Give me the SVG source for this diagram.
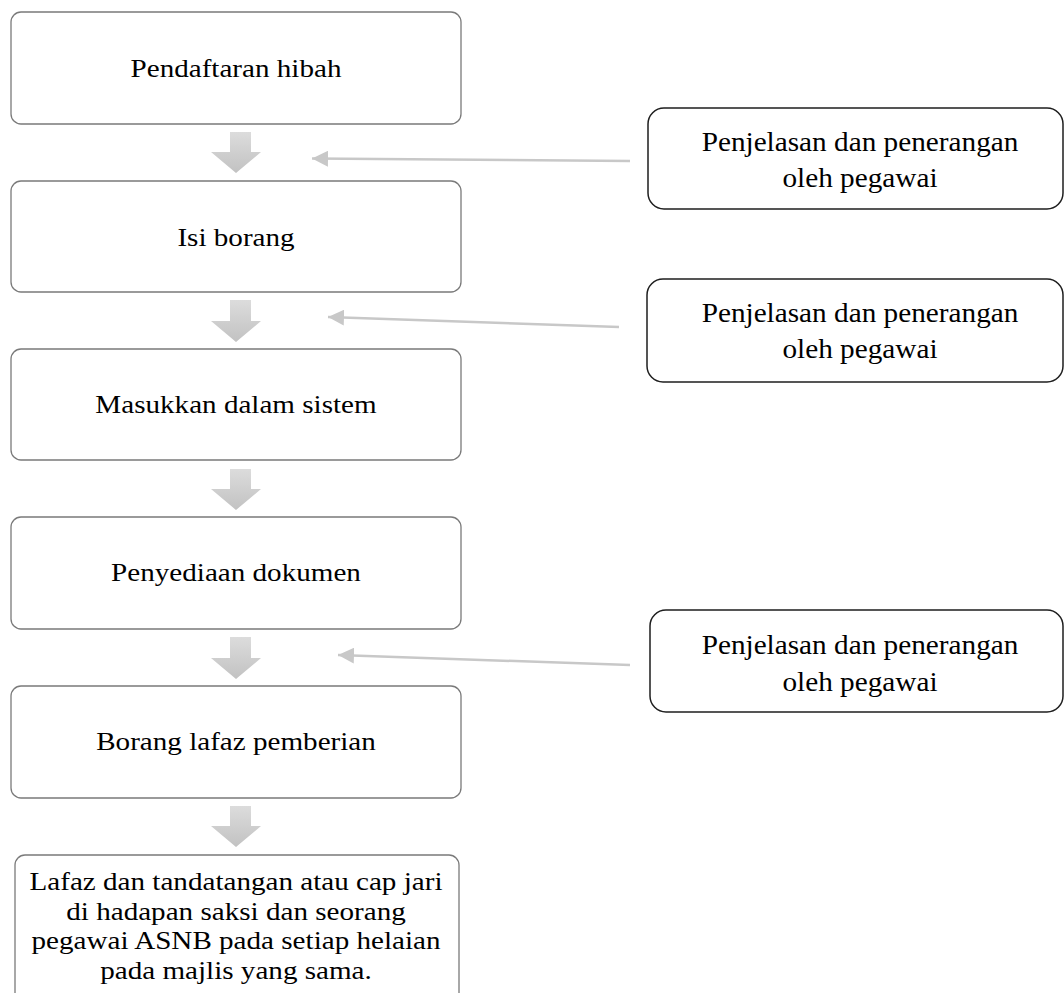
<svg xmlns="http://www.w3.org/2000/svg" width="1064" height="993" viewBox="0 0 1064 993">
  <defs>
    <style>
      .main rect { fill: #ffffff; stroke: #7a7a7a; stroke-width: 1.3; }
      .side rect { fill: #ffffff; stroke: #1e1e1e; stroke-width: 1.5; }
      text { font-family: "Liberation Serif", "Times New Roman", serif; fill: #000000; text-anchor: middle; }
      .mt { font-size: 26px; }
      .st { font-size: 28px; }
      .down { fill: url(#grad); }
      .conn { stroke: #c8c8c8; stroke-width: 2.5; fill: none; marker-end: url(#head); }
    </style>
    <linearGradient id="grad" x1="0" y1="0" x2="0" y2="1">
      <stop offset="0" stop-color="#dcdcdc"/>
      <stop offset="1" stop-color="#c2c2c2"/>
    </linearGradient>
    <marker id="head" markerUnits="userSpaceOnUse" markerWidth="18" markerHeight="16" refX="16" refY="8" orient="auto">
      <path d="M0,0 L16,8 L0,16 Z" fill="#c8c8c8"/>
    </marker>
  </defs>

  <g id="node-pendaftaran" class="main">
    <rect x="11" y="12" width="450" height="112" rx="10"/>
    <text class="mt" transform="translate(236,77) scale(1.12,1)">Pendaftaran hibah</text>
  </g>
  <g id="node-isi" class="main">
    <rect x="11" y="181" width="450" height="111" rx="10"/>
    <text class="mt" transform="translate(236,246) scale(1.12,1)">Isi borang</text>
  </g>
  <g id="node-masukkan" class="main">
    <rect x="11" y="349" width="450" height="111" rx="10"/>
    <text class="mt" transform="translate(236,413) scale(1.12,1)">Masukkan dalam sistem</text>
  </g>
  <g id="node-penyediaan" class="main">
    <rect x="11" y="517" width="450" height="112" rx="10"/>
    <text class="mt" transform="translate(236,581) scale(1.12,1)">Penyediaan dokumen</text>
  </g>
  <g id="node-borang" class="main">
    <rect x="11" y="686" width="450" height="112" rx="10"/>
    <text class="mt" transform="translate(236,750) scale(1.12,1)">Borang lafaz pemberian</text>
  </g>
  <g id="node-lafaz" class="main">
    <rect x="15" y="855" width="444" height="150" rx="10"/>
    <text class="mt" transform="translate(236,890) scale(1.12,1)">Lafaz dan tandatangan atau cap jari</text>
    <text class="mt" transform="translate(236,919.5) scale(1.12,1)">di hadapan saksi dan seorang</text>
    <text class="mt" transform="translate(236,949) scale(1.12,1)">pegawai ASNB pada setiap helaian</text>
    <text class="mt" transform="translate(236,978.5) scale(1.12,1)">pada majlis yang sama.</text>
  </g>

  <g id="node-penjelasan-1" class="side">
    <rect x="648" y="108" width="415" height="101" rx="16"/>
    <text class="st" transform="translate(860,151) scale(1.045,1)">Penjelasan dan penerangan</text>
    <text class="st" transform="translate(860,187) scale(1.045,1)">oleh pegawai</text>
  </g>
  <g id="node-penjelasan-2" class="side">
    <rect x="647" y="279" width="416" height="103" rx="16"/>
    <text class="st" transform="translate(860,322) scale(1.045,1)">Penjelasan dan penerangan</text>
    <text class="st" transform="translate(860,358) scale(1.045,1)">oleh pegawai</text>
  </g>
  <g id="node-penjelasan-3" class="side">
    <rect x="650" y="610" width="413" height="102" rx="16"/>
    <text class="st" transform="translate(860,654) scale(1.045,1)">Penjelasan dan penerangan</text>
    <text class="st" transform="translate(860,691) scale(1.045,1)">oleh pegawai</text>
  </g>

  <g id="connectors">
    <path class="down" d="M230,132 H251 V152 H261 L236,173 L211,152 H230 Z"/>
    <path class="down" d="M230,300 H251 V321 H261 L236,342 L211,321 H230 Z"/>
    <path class="down" d="M230,469 H251 V489 H261 L236,510 L211,489 H230 Z"/>
    <path class="down" d="M230,637 H251 V658 H261 L236,679 L211,658 H230 Z"/>
    <path class="down" d="M230,806 H251 V826 H261 L236,847 L211,826 H230 Z"/>
    <line class="conn" x1="630" y1="161" x2="312" y2="158.5"/>
    <line class="conn" x1="619" y1="327" x2="328" y2="317"/>
    <line class="conn" x1="630" y1="665" x2="338" y2="655"/>
  </g>
</svg>
